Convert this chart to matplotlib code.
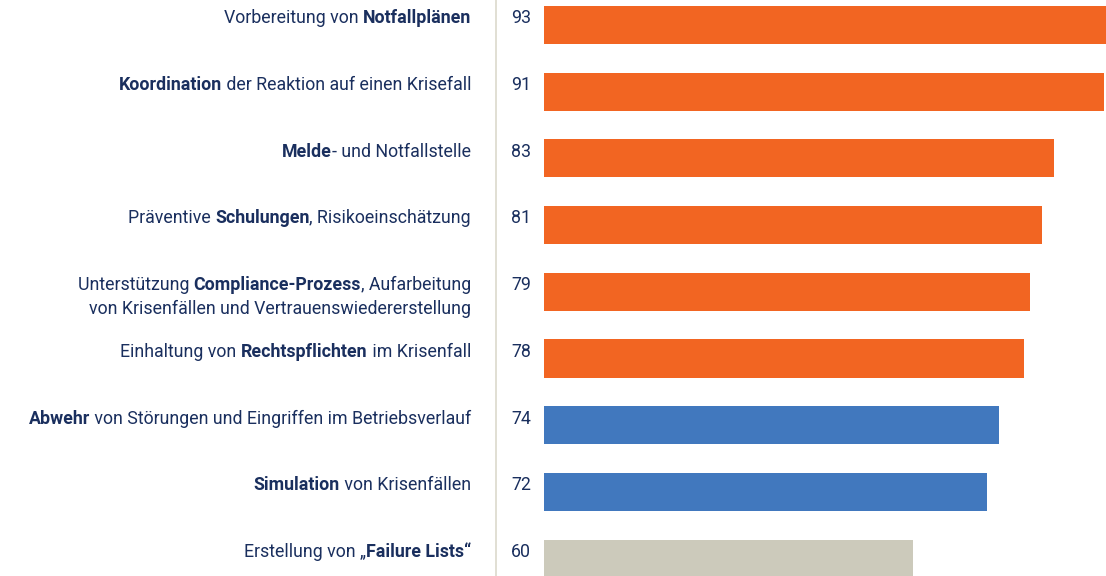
import matplotlib
matplotlib.use("Agg")
import matplotlib.pyplot as plt
from matplotlib.lines import Line2D

# each label is a list of (text, bold) parts, lines separated by "\n" entries
labels = [
    [("Vorbereitung von ", False), ("Notfallplänen", True)],
    [("Koordination", True), (" der Reaktion auf einen Krisefall", False)],
    [("Melde", True), ("- und Notfallstelle", False)],
    [("Präventive ", False), ("Schulungen", True), (", Risikoeinschätzung", False)],
    [("Unterstützung ", False), ("Compliance-Prozess", True), (", Aufarbeitung", False),
     ("\n", False), ("von Krisenfällen und Vertrauenswiedererstellung", False)],
    [("Einhaltung von ", False), ("Rechtspflichten", True), (" im Krisenfall", False)],
    [("Abwehr", True), (" von Störungen und Eingriffen im Betriebsverlauf", False)],
    [("Simulation", True), (" von Krisenfällen", False)],
    [("Erstellung von \u201e", False), ("Failure Lists\u201c", True)],
]
values = [93, 91, 83, 81, 79, 78, 74, 72, 60]
groups = ["top", "top", "top", "top", "top", "top", "mid", "mid", "low"]

colors = {"top": "#f26522", "mid": "#4178be", "low": "#cccabb"}
navy = "#1a2f5e"
font = "Roboto"
fsize = 12.8

W, H = 1106, 576
fig = plt.figure(figsize=(W / 100, H / 100), dpi=100)
ax = fig.add_axes([544 / W, 0, 1 - 544 / W, 1])

y = list(range(len(values)))
ax.barh(y, values, height=0.57, color=[colors[g] for g in groups])
ax.set_xlim(0, (W - 544) / 6.15)
pitch = 66.7
ax.set_ylim((H - 25) / pitch, -25 / pitch)
ax.axis("off")

label_x = 471 / W
num_x = 511 / W
for i, (parts, v) in enumerate(zip(labels, values)):
    ty = i - 0.1
    # split into lines
    lines = [[]]
    for txt, bold in parts:
        if txt == "\n":
            lines.append([])
        else:
            lines[-1].append((txt, bold))
    for k, line in enumerate(lines):
        ly = ty + k * 24 / pitch
        prev = None
        for txt, bold in reversed(line):
            kw = dict(fontsize=fsize, family=font, color=navy,
                      fontweight="bold" if bold else "normal")
            if prev is None:
                prev = ax.annotate(txt, xy=(label_x, ly),
                                   xycoords=("figure fraction", "data"),
                                   ha="right", va="center", annotation_clip=False, **kw)
            else:
                prev = ax.annotate(txt, xy=(0, 0), xycoords=prev,
                                   ha="right", va="bottom", annotation_clip=False, **kw)
    ax.annotate(str(v), xy=(num_x, ty), xycoords=("figure fraction", "data"),
                ha="left", va="center", fontsize=fsize, family=font, color=navy,
                annotation_clip=False)

fig.add_artist(Line2D([496 / W, 496 / W], [0, 1], transform=fig.transFigure,
                      color="#dcd9cc", linewidth=1.2))

fig.savefig("out.png", dpi=100)
